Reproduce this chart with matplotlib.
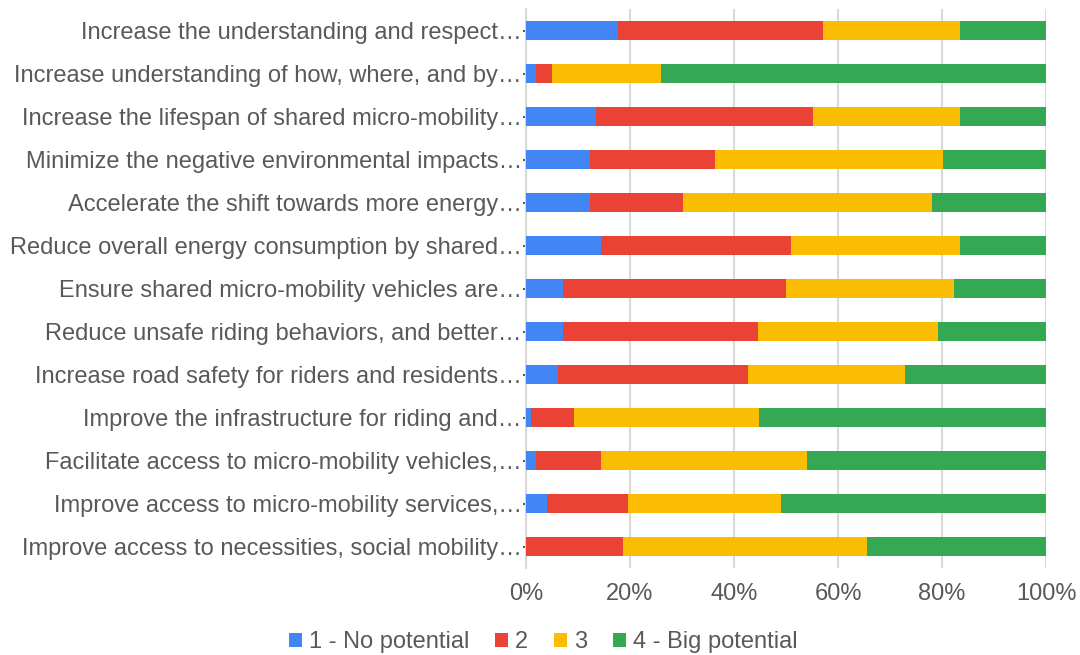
import numpy as np
import matplotlib.pyplot as plt

plt.rcParams['font.family'] = ['Liberation Sans', 'DejaVu Sans']

labels = [
    "Increase the understanding and respect…",
    "Increase understanding of how, where, and by…",
    "Increase the lifespan of shared micro-mobility…",
    "Minimize the negative environmental impacts…",
    "Accelerate the shift towards more energy…",
    "Reduce overall energy consumption by shared…",
    "Ensure shared micro-mobility vehicles are…",
    "Reduce unsafe riding behaviors, and better…",
    "Increase road safety for riders and residents…",
    "Improve the infrastructure for riding and…",
    "Facilitate access to micro-mobility vehicles,…",
    "Improve access to micro-mobility services,…",
    "Improve access to necessities, social mobility…",
]

# percent of answers per level, top row first
no_potential = [17.6, 1.9, 13.5, 12.4, 12.4, 14.5, 7.2, 7.2, 6.1, 0.9, 1.9, 4.0, 0.0]
level_2 = [39.6, 3.1, 41.6, 24.0, 17.8, 36.5, 42.8, 37.5, 36.5, 8.3, 12.5, 15.7, 18.6]
level_3 = [26.2, 21.0, 28.3, 43.8, 47.9, 32.4, 32.3, 34.5, 30.3, 35.6, 39.7, 29.3, 47.0]
big_potential = [16.6, 74.0, 16.6, 19.8, 21.9, 16.6, 17.7, 20.8, 27.1, 55.2, 45.9, 51.0, 34.4]

series = [
    ("1 - No potential", no_potential, '#4285F4'),
    ("2", level_2, '#EA4335'),
    ("3", level_3, '#FBBC04'),
    ("4 - Big potential", big_potential, '#34A853'),
]

fig = plt.figure(figsize=(10.8, 6.55), dpi=100)
ax = fig.add_axes([526/1080, 1-568/655, 520/1080, 559/655])

y = np.arange(len(labels))[::-1]
left = np.zeros(len(labels))
for name, vals, col in series:
    vals = np.array(vals)
    ax.barh(y, vals, left=left, height=0.42, color=col, label=name, zorder=3)
    left = left + vals

ax.set_xlim(0, 100)
ax.set_ylim(-0.5, len(labels) - 0.5)
ax.set_xticks([0, 20, 40, 60, 80, 100])
ax.set_xticklabels(['0%', '20%', '40%', '60%', '80%', '100%'])
ax.set_yticks(y)
ax.set_yticklabels(labels)
ax.grid(axis='x', color='#d9d9d9', linewidth=1.5, zorder=0)
for s in ['top', 'right', 'bottom']:
    ax.spines[s].set_visible(False)
ax.spines['left'].set_color('#d9d9d9')
ax.spines['left'].set_linewidth(1.5)
ax.tick_params(axis='y', length=2, width=1.5, color='#595959', pad=1,
               labelsize=17, labelcolor='#595959')
ax.tick_params(axis='x', length=0, pad=11, labelsize=17, labelcolor='#595959')

fig.legend(loc='center', bbox_to_anchor=(0.503, 1-642/655), ncol=4, frameon=False,
           fontsize=17, labelcolor='#595959', handlelength=0.55, handleheight=0.55,
           handletextpad=0.3, columnspacing=1.1, borderaxespad=0)

fig.savefig('out.png', dpi=100)
